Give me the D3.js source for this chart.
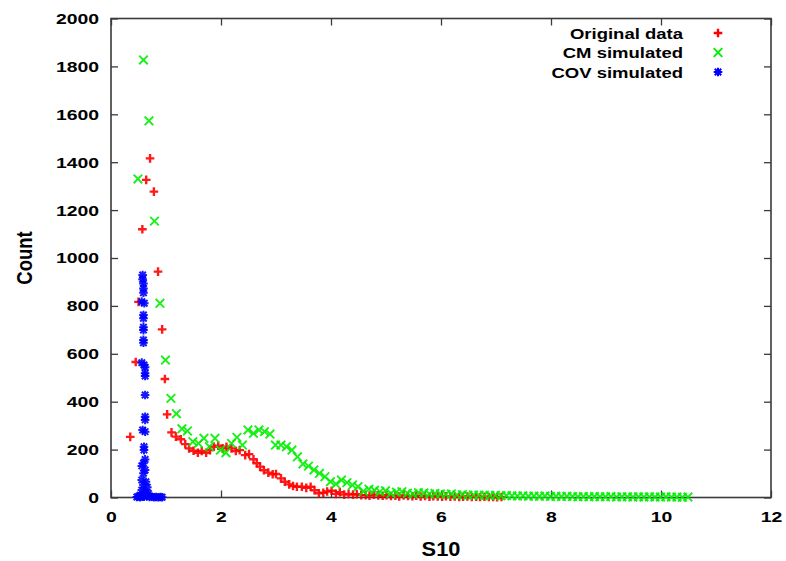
<!DOCTYPE html>
<html>
<head>
<meta charset="utf-8">
<script src="https://cdn.jsdelivr.net/npm/d3@7/dist/d3.min.js"></script>
<style>
  html, body { margin: 0; padding: 0; background: #fff; }
  svg { display: block; }
  text { font-family: "Liberation Sans", Arial, sans-serif; font-weight: bold; fill: #000; }
</style>
</head>
<body>
<svg id="chart" width="786" height="561"></svg>
<script>
// Histogram of S10: original data and two simulations (CM, COV)

const xTicks = [0, 2, 4, 6, 8, 10, 12];
const yTicks = [0, 200, 400, 600, 800, 1000, 1200, 1400, 1600, 1800, 2000];

// Original data
const origX = [0.35, 0.45, 0.50, 0.57, 0.64, 0.71, 0.78, 0.855, 0.93, 0.98, 1.02, 1.10, 1.18, 1.27, 1.35, 1.42,
  1.50, 1.58, 1.65, 1.73, 1.80, 1.87, 1.95, 2.03, 2.10, 2.19, 2.27, 2.34, 2.44, 2.51, 2.59, 2.65, 2.71, 2.78,
  2.86, 2.94, 3.00, 3.09, 3.16, 3.24, 3.31, 3.38, 3.47, 3.55, 3.63, 3.70, 3.78, 3.86, 3.93, 4.01, 4.09, 4.16,
  4.24, 4.32, 4.40, 4.47, 4.55, 4.63, 4.70, 4.78, 4.86, 4.94, 5.01, 5.09, 5.17, 5.24, 5.32, 5.40, 5.48, 5.55,
  5.63, 5.71, 5.79, 5.86, 5.94, 6.02, 6.09, 6.17, 6.25, 6.33, 6.40, 6.48, 6.56, 6.64, 6.71, 6.79, 6.87, 6.95,
  7.02, 7.10];
const origCount = [253, 566, 817, 1120, 1326, 1416, 1277, 943, 702, 495, 347, 272, 254, 243, 223, 205,
  195, 187, 194, 187, 198, 212, 216, 205, 212, 205, 194, 198, 177, 181, 160, 143, 129, 114,
  104, 97, 98, 80, 66, 55, 48, 45, 45, 40, 45, 30, 18, 20, 25, 28, 15, 22,
  12, 15, 12, 14, 10, 10, 8, 12, 9, 7, 10, 6, 8, 4, 9, 6, 5, 7,
  4, 6, 3, 5, 4, 3, 5, 3, 4, 2, 3, 4, 2, 3, 2, 3, 2, 2,
  1, 2];

// CM simulated: bins of width 0.1 starting at 0.49
const cmStart = 0.49, cmWidth = 0.1;
const cmCount = [1330, 1827, 1573, 1154, 811, 574, 414, 350, 287, 278,
  233, 226, 247, 212, 247, 198, 187, 226, 251, 219,
  282, 268, 282, 275, 265, 219, 219, 212, 198, 170,
  140, 131, 115, 101, 87, 66, 56, 73, 62, 52,
  45, 26, 35, 30, 24, 28, 17, 22, 24, 18,
  15, 20, 19, 15, 17, 15, 13, 15, 11, 12,
  10, 11, 9, 10, 8, 9, 7, 8, 7, 6,
  7, 5, 6, 5, 6, 4, 5, 4, 5, 4,
  3, 4, 3, 4, 3, 3, 4, 2, 3, 3,
  2, 3, 2, 3, 2, 2, 3, 2, 2, 1, 2];
const cmX = d3.range(cmCount.length).map(i => cmStart + i * cmWidth);

// COV simulated
const covX = [0.575, 0.575, 0.59, 0.59, 0.59, 0.56, 0.605, 0.59, 0.59, 0.59, 0.59, 0.59, 0.59,
  0.56, 0.60, 0.62, 0.62, 0.62, 0.62, 0.62, 0.62, 0.575, 0.62, 0.60, 0.60, 0.62, 0.59, 0.56,
  0.62, 0.59, 0.56, 0.635, 0.59, 0.66, 0.56, 0.62, 0.68, 0.53,
  0.47, 0.50, 0.53, 0.56, 0.60, 0.65, 0.70, 0.74, 0.78, 0.82, 0.86, 0.90, 0.93];
const covCount = [929, 911, 894, 873, 855, 818, 811, 762, 748, 711, 699, 658, 646,
  563, 553, 544, 519, 507, 428, 337, 324, 282, 275, 212, 198, 159, 143, 132,
  115, 101, 73, 66, 52, 43, 31, 24, 17, 10,
  2, 4, 1, 5, 3, 6, 2, 3, 1, 2, 1, 2, 1];

const svg = d3.select("#chart");
const margin = { left: 111, right: 15, top: 18.5, bottom: 63.5 };
const W = 786, H = 561;

const x = d3.scaleLinear().domain([0, 12]).range([margin.left, W - margin.right]);
const y = d3.scaleLinear().domain([0, 2000]).range([H - margin.bottom, margin.top]);

const axisColor = "#3a3a3a";
const tickLen = 7;
const stretch = 1.25;      // text is drawn slightly wide
const tickFont = 15.5;
const legendFont = 14.8;

// Axes with inward ticks on all four sides
const gB = svg.append("g").attr("transform", `translate(0,${y(0)})`)
  .call(d3.axisBottom(x).tickValues(xTicks).tickSizeInner(-tickLen).tickSizeOuter(0)
    .tickPadding(14).tickFormat(d3.format("d")));
const gT = svg.append("g").attr("transform", `translate(0,${y(2000)})`)
  .call(d3.axisTop(x).tickValues(xTicks).tickSizeInner(-tickLen).tickSizeOuter(0).tickFormat(""));
const gL = svg.append("g").attr("transform", `translate(${x(0)},0)`)
  .call(d3.axisLeft(y).tickValues(yTicks).tickSizeInner(-tickLen).tickSizeOuter(0)
    .tickPadding(12).tickFormat(d3.format("d")));
const gR = svg.append("g").attr("transform", `translate(${x(12)},0)`)
  .call(d3.axisRight(y).tickValues(yTicks).tickSizeInner(-tickLen).tickSizeOuter(0).tickFormat(""));

[gB, gT, gL, gR].forEach(g => {
  g.select(".domain").remove();
  g.selectAll(".tick line").attr("stroke", axisColor).attr("stroke-width", 1.3);
  g.selectAll(".tick text").attr("font-size", tickFont).attr("font-family", "Liberation Sans, Arial, sans-serif")
    .attr("font-weight", "bold").attr("fill", "#000");
});
gL.selectAll(".tick text").attr("x", -12 / stretch).attr("transform", `scale(${stretch},1)`);
gB.selectAll(".tick text").attr("transform", `scale(${stretch},1)`);

// Frame
svg.append("rect")
  .attr("x", x(0)).attr("y", y(2000))
  .attr("width", x(12) - x(0)).attr("height", y(0) - y(2000))
  .attr("fill", "none").attr("stroke", axisColor).attr("stroke-width", 1.6);

// Axis titles
svg.append("text")
  .attr("transform", `translate(${(x(0) + x(12)) / 2},556) scale(1.12,1)`)
  .attr("text-anchor", "middle").attr("font-size", 19.5).text("S10");
svg.append("text")
  .attr("transform", `translate(32,${(y(0) + y(2000)) / 2}) scale(1.15,1) rotate(-90)`)
  .attr("text-anchor", "middle").attr("font-size", 18.5).text("Count");

// Marker shapes
const s = 4.3;
const plusPath = `M${-s},0H${s}M0,${-s}V${s}`;
const crossPath = `M${-s},${-s}L${s},${s}M${-s},${s}L${s},${-s}`;
const starPath = `M${-s},0H${s}M0,${-s}V${s}M${-s*0.75},${-s*0.75}L${s*0.75},${s*0.75}M${-s*0.75},${s*0.75}L${s*0.75},${-s*0.75}`;

const series = [
  { name: "Original data", xs: origX, ys: origCount, color: "#ff0000", path: plusPath, width: 2.4 },
  { name: "CM simulated", xs: cmX, ys: cmCount, color: "#00ee00", path: crossPath, width: 1.9 },
  { name: "COV simulated", xs: covX, ys: covCount, color: "#0000ff", path: starPath, width: 2.0 }
];

const plot = svg.append("g");
series.forEach(sr => {
  plot.append("g").selectAll("path")
    .data(sr.xs.map((v, i) => [v, sr.ys[i]]))
    .join("path")
    .attr("transform", d => `translate(${x(d[0])},${y(d[1])})`)
    .attr("d", sr.path)
    .attr("fill", "none")
    .attr("stroke", sr.color)
    .attr("stroke-width", sr.width)
    .attr("opacity", 0.9);
});

// Legend
const legend = svg.append("g");
series.forEach((sr, i) => {
  const cy = 33 + i * 19.5;
  legend.append("text")
    .attr("transform", `translate(683,${cy + 5.5}) scale(${stretch},1)`)
    .attr("text-anchor", "end").attr("font-size", legendFont).text(sr.name);
  legend.append("path")
    .attr("transform", `translate(718,${cy})`)
    .attr("d", sr.path)
    .attr("fill", "none").attr("stroke", sr.color).attr("stroke-width", sr.width);
});
</script>
</body>
</html>
